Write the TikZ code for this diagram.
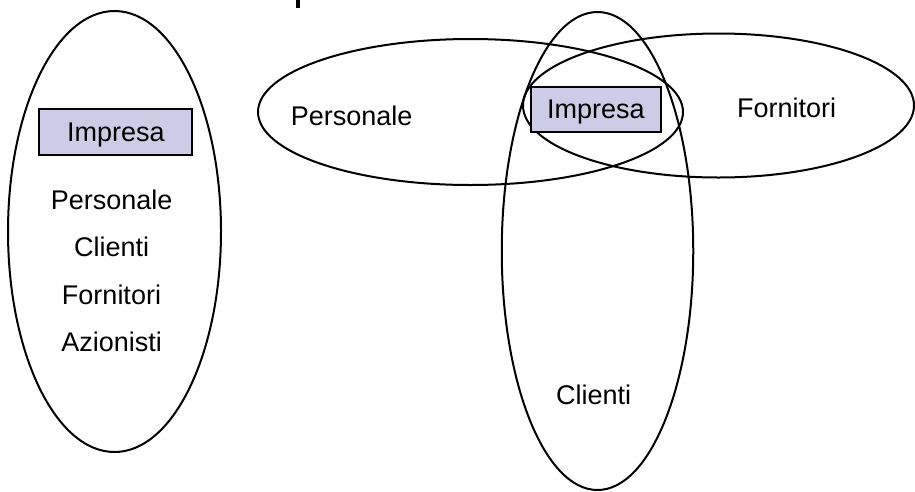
\documentclass[tikz,border=0pt]{standalone}
\usepackage{fontspec}
\setmainfont{Liberation Sans}
\usetikzlibrary{shapes.geometric}
\definecolor{boxfill}{RGB}{204,204,230}
\begin{document}
\begin{tikzpicture}[x=1pt,y=-1pt,
  ring/.style={draw=black, line width=2pt, ellipse, inner sep=0pt, outer sep=0pt},
  firm/.style={draw=black, fill=boxfill, line width=2pt, rectangle, inner sep=0pt},
  lbl/.style={anchor=base, inner sep=0pt, font=\fontsize{27}{30}\selectfont}]
\useasboundingbox (0,0) rectangle (915,491);
% cut-off title fragment
\fill[black] (296,0) rectangle (299.6,7.5);
% left ellipse
\node[ring, minimum width=213pt, minimum height=441pt] (leftring) at (114.5,231.5) {};
\node[firm, minimum width=153pt, minimum height=46pt] (leftbox) at (115.5,132) {};
\node[lbl] (limp) at (115.8,141.7) {Impresa};
\node[lbl] (lpers) at (111.7,209) {Personale};
\node[lbl] (lcli) at (111.7,256.5) {Clienti};
\node[lbl] (lforn) at (111.5,304) {Fornitori};
\node[lbl] (lazi) at (111.7,351.5) {Azionisti};
% right ellipses
\node[ring, minimum width=425pt, minimum height=146pt] (persring) at (470.5,112) {};
\node[ring, minimum width=391pt, minimum height=144pt] (fornring) at (718.5,105.5) {};
\node[ring, minimum width=191.5pt, minimum height=478pt] (cliring) at (597.5,251) {};
\node[firm, minimum width=130.5pt, minimum height=45pt] (rightbox) at (596.2,109.2) {};
\node[lbl] (rimp) at (595.8,118.3) {Impresa};
\node[lbl] (rpers) at (351.7,125) {Personale};
\node[lbl] (rforn) at (786.7,117.3) {Fornitori};
\node[lbl] (rcli) at (593.7,404) {Clienti};
\end{tikzpicture}
\end{document}
